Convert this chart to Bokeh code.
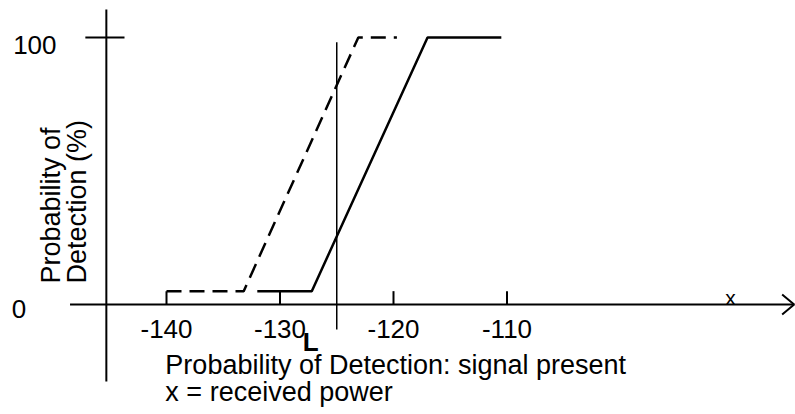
from math import pi
from bokeh.plotting import figure
from bokeh.embed import file_html
from bokeh.resources import INLINE
from bokeh.core.properties import value
from bokeh.models import ColumnDataSource

# ---- data ----
tick_values = [-140, -130, -120, -110]
tick_labels = ["-140", "-130", "-120", "-110"]
y_tick_labels = ["0", "100"]
y_tick_values = [0, 100]

solid_x = [-132.0, -127.2, -117.0, -110.5]
solid_y = [5, 5, 100, 100]
dashed_x = [-140.0, -133.2, -123.1, -119.7]
dashed_y = [5, 5, 100, 100]

threshold_x = -125.0
threshold_y = [-9.4, 98.2]

y_axis_x = -145.3
y_axis_span = [-28.8, 110.5]
x_axis_span = [-148.5, -84.7]
tick_height = 5.0

# ---- geometry (pixel scales) ----
W, H = 795, 414
PX_X = 11.35   # px per x unit
PX_Y = 2.67    # px per y unit
x0 = -140 - 166 / PX_X
x1 = x0 + W / PX_X
y1 = 304 / PX_Y
y0 = y1 - H / PX_Y


def ypx(py):
    return (304 - py) / PX_Y


FONT = value("Liberation Sans")

p = figure(width=W, height=H, x_range=(x0, x1), y_range=(y0, y1),
           x_axis_type=None, y_axis_type=None, output_backend="svg",
           toolbar_location=None, min_border=0)
p.outline_line_color = None
p.background_fill_color = "white"
p.border_fill_color = "white"

# axes
p.line(x_axis_span, [0, 0], line_color="black", line_width=2)
p.line([y_axis_x, y_axis_x], y_axis_span, line_color="black", line_width=2)
# arrow head (open V)
ah_len = 12 / PX_X
ah_half = 10 / PX_Y
tip = x_axis_span[1]
p.line([tip - ah_len, tip, tip - ah_len], [ah_half, 0, -ah_half],
       line_color="black", line_width=2)

# x ticks
for t in tick_values:
    p.line([t, t], [0, tick_height], line_color="black", line_width=2)
# y tick at 100
p.line([y_axis_x - 1.85, y_axis_x + 1.6], [100, 100], line_color="black", line_width=2)

# curves
p.line(solid_x, solid_y, line_color="black", line_width=2.5)
p.line(dashed_x, dashed_y, line_color="black", line_width=2.5, line_dash="15 8")

# threshold line L
p.line([threshold_x, threshold_x], threshold_y, line_color="black", line_width=1.5)

# tick labels
src = ColumnDataSource(dict(x=tick_values, y=[ypx(328)] * 4, t=tick_labels))
p.text(x="x", y="y", text="t", source=src, text_align="center",
       text_baseline="alphabetic", text_font=FONT, text_font_size="26px",
       text_color="black")

ysrc = ColumnDataSource(dict(x=[-153.0, -151.6], y=[ypx(308), ypx(44)], t=y_tick_labels))
p.text(x="x", y="y", text="t", source=ysrc, text_align="center",
       text_baseline="alphabetic", text_font=FONT, text_font_size="26px",
       text_color="black")

# axis x label
p.text(x=[-90.3], y=[ypx(297)], text=["x"], text_align="center",
       text_baseline="alphabetic", text_font=FONT, text_font_size="21px",
       text_color="black")

# L label
p.text(x=[-127.3], y=[ypx(341)], text=["L"], text_align="center",
       text_baseline="alphabetic", text_font=FONT, text_font_size="26px",
       text_font_style="bold", text_color="black")

# rotated y label
p.text(x=[x0 + 50 / PX_X, x0 + 76 / PX_X], y=[ypx(283)] * 2,
       text=["Probability of", "Detection (%)"], angle=pi / 2,
       text_align="left", text_baseline="alphabetic", text_font=FONT,
       text_font_size="27px", text_color="black")

# caption
p.text(x=[-140.1, -140.1], y=[ypx(364), ypx(391)],
       text=["Probability of Detection: signal present", "x = received power"],
       text_align="left", text_baseline="alphabetic", text_font=FONT,
       text_font_size="27px", text_color="black")

open("out.html", "w").write(file_html(p, INLINE))
